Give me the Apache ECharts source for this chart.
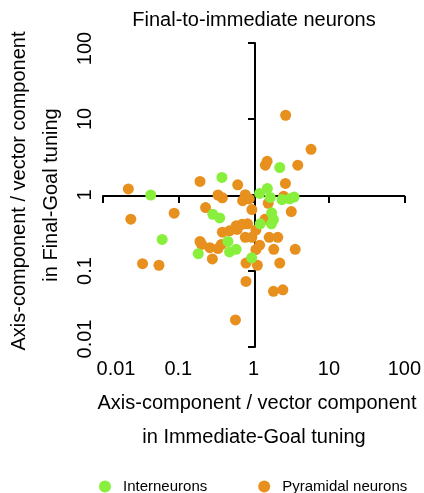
<!DOCTYPE html>
<html>
<head>
<meta charset="utf-8">
<script src="https://cdn.jsdelivr.net/npm/echarts@6/dist/echarts.min.js"></script>
<style>
html,body{margin:0;padding:0;background:#fff;}
#chart{width:424px;height:493px;}
</style>
</head>
<body>
<div id="chart"></div>
<script>
const tickLabels = ['0.01', '0.1', '1', '10', '100'];
const seriesNames = ['Interneurons', 'Pyramidal neurons'];
const interX = [2.22, 0.379, 0.043, 1.20, 1.52, 1.66, 2.38, 3.0, 3.44, 0.287, 0.354, 1.73, 1.83, 1.72, 1.22, 0.061, 0.455, 0.184, 0.478, 0.585, 0.94];
const interY = [2.30, 1.70, 1.0, 1.05, 1.22, 0.93, 0.87, 0.89, 0.94, 0.556, 0.50, 0.582, 0.476, 0.418, 0.418, 0.26, 0.245, 0.169, 0.178, 0.193, 0.149];
const pyrX = [5.78, 2.66, 1.51, 1.43, 3.85, 0.194, 0.614, 2.64, 0.0217, 0.336, 0.384, 0.774, 0.714, 0.873, 2.50, 1.56, 0.230, 0.947, 3.16, 0.0234, 0.088, 1.41, 0.384, 0.478, 0.585, 0.701, 0.830, 0.603, 1.07, 0.774, 0.947, 1.61, 2.09, 0.194, 0.204, 0.262, 0.336, 0.373, 0.283, 1.07, 1.20, 1.85, 3.56, 0.791, 1.12, 2.22, 0.0335, 0.0553, 0.791, 1.83, 2.44, 0.573];
const pyrY = [3.99, 11.2, 2.77, 2.47, 2.47, 1.51, 1.36, 1.42, 1.20, 1.0, 0.92, 1.01, 0.842, 0.887, 0.96, 0.779, 0.683, 0.643, 0.605, 0.481, 0.576, 0.479, 0.324, 0.338, 0.393, 0.412, 0.418, 0.352, 0.346, 0.277, 0.277, 0.277, 0.277, 0.245, 0.224, 0.203, 0.197, 0.224, 0.144, 0.191, 0.219, 0.193, 0.193, 0.127, 0.119, 0.127, 0.125, 0.119, 0.0729, 0.054, 0.0565, 0.0227];

const FONT = 'Liberation Sans, Arial, sans-serif';
const zip = (a, b) => a.map((v, i) => [v, b[i]]);
const labelFmt = v => {
  const s = tickLabels.find(t => Math.abs(parseFloat(t) - v) / v < 1e-6);
  return s === undefined ? '' : s;
};
const richBase = {fontFamily: FONT, fontSize: 20, color: '#000'};

const chart = echarts.init(document.getElementById('chart'), null, {renderer: 'canvas'});
const baseAxis = {type: 'log', logBase: 10, min: 0.01, max: 100, splitLine: {show: false}, minorTick: {show: false}};

chart.setOption({
  animation: false,
  backgroundColor: '#fff',
  grid: {left: 103, top: 43, width: 304, height: 304, containLabel: false},
  xAxis: [
    Object.assign({}, baseAxis, {
      position: 'bottom',
      offset: -151,
      axisLine: {show: true, lineStyle: {color: '#000', width: 2}},
      axisTick: {show: true, length: 7, lineStyle: {color: '#000', width: 2}},
      axisLabel: {show: false}
    }),
    Object.assign({}, baseAxis, {
      position: 'bottom',
      axisLine: {show: false},
      axisTick: {show: false},
      axisLabel: {
        show: true, margin: 12, color: '#000', fontFamily: FONT, fontSize: 20,
        formatter: v => { const s = labelFmt(v); return s === '0.01' ? '{a|' + s + '}' : s; },
        rich: {a: Object.assign({padding: [0, 0, 0, 26]}, richBase)}
      }
    })
  ],
  yAxis: [
    Object.assign({}, baseAxis, {
      position: 'left',
      offset: -152,
      axisLine: {show: true, lineStyle: {color: '#000', width: 2}},
      axisTick: {show: true, length: 7, lineStyle: {color: '#000', width: 2}},
      axisLabel: {show: false}
    }),
    Object.assign({}, baseAxis, {
      position: 'left',
      axisLine: {show: false},
      axisTick: {show: false},
      axisLabel: {
        show: true, margin: 8, rotate: 90, color: '#000', fontFamily: FONT, fontSize: 20,
        formatter: v => {
          const s = labelFmt(v);
          if (s === '0.01') return '{lo|' + s + '}';
          if (s === '100') return '{hi|' + s + '}';
          return s;
        },
        rich: {
          lo: Object.assign({padding: [0, 0, 0, 16]}, richBase),
          hi: Object.assign({padding: [0, 11, 0, 0]}, richBase)
        }
      }
    })
  ],
  legend: {
    left: 99, top: 479, padding: 0,
    itemWidth: 12, itemHeight: 12, itemGap: 51, icon: 'circle',
    textStyle: {fontFamily: FONT, fontSize: 15, color: '#000', padding: [0, 0, 0, 7]},
    data: seriesNames
  },
  graphic: [
    {type: 'text', x: 254, y: 20, style: {text: 'Final-to-immediate neurons', font: '20px ' + FONT, fill: '#000', align: 'center', verticalAlign: 'middle'}},
    {type: 'text', x: 257, y: 403, style: {text: 'Axis-component / vector component', font: '20px ' + FONT, fill: '#000', align: 'center', verticalAlign: 'middle'}},
    {type: 'text', x: 254, y: 437, style: {text: 'in Immediate-Goal tuning', font: '20px ' + FONT, fill: '#000', align: 'center', verticalAlign: 'middle'}},
    {type: 'text', x: 19, y: 191, rotation: Math.PI / 2, style: {text: 'Axis-component / vector component', font: '20px ' + FONT, fill: '#000', align: 'center', verticalAlign: 'middle'}},
    {type: 'text', x: 51, y: 195, rotation: Math.PI / 2, style: {text: 'in Final-Goal tuning', font: '20px ' + FONT, fill: '#000', align: 'center', verticalAlign: 'middle'}}
  ],
  series: [
    {
      name: seriesNames[1], type: 'scatter', xAxisIndex: 0, yAxisIndex: 0,
      symbolSize: 11, itemStyle: {color: '#E8901E', opacity: 1},
      data: zip(pyrX, pyrY)
    },
    {
      name: seriesNames[0], type: 'scatter', xAxisIndex: 0, yAxisIndex: 0,
      symbolSize: 11, itemStyle: {color: '#88F03C', opacity: 1},
      data: zip(interX, interY)
    }
  ]
});
</script>
</body>
</html>
